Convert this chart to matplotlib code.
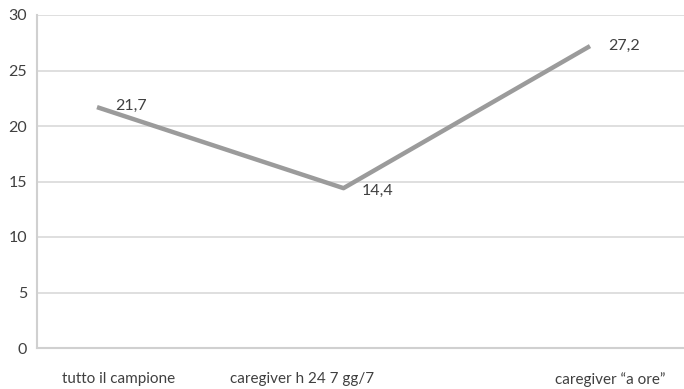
import matplotlib
matplotlib.use("Agg")
import matplotlib.pyplot as plt

categories = ["tutto il campione", "caregiver h 24 7 gg/7", "caregiver \u201ca ore\u201d"]
values = [21.7, 14.4, 27.2]
value_labels = ["21,7", "14,4", "27,2"]
yticks = [0, 5, 10, 15, 20, 25, 30]

plt.rcParams["font.family"] = ["Lato", "DejaVu Sans"]

W, H = 684, 389
fig = plt.figure(figsize=(W / 100, H / 100), dpi=100)
left, right, top, bottom = 37, 684, 15, 348
ax = fig.add_axes([left / W, (H - bottom) / H, (right - left) / W, (bottom - top) / H])

# points sit at x = 97, 344, 589 px; 246 px per category step
step = 246.5
x0 = 97
ax.set_xlim((left - x0) / step, (right - x0) / step)
ax.set_ylim(0, 30)

xs = list(range(len(values)))
ax.plot(xs, values, color="#9b9b9b", lw=3.2, solid_capstyle="butt", zorder=3)

offsets = [(13, 1), (13, -2), (13, 0)]
for x, v, lab, (dx, dy) in zip(xs, values, value_labels, offsets):
    ax.annotate(lab, (x, v), xytext=(dx, dy), textcoords="offset points",
                ha="left", va="center", fontsize=11.5, color="#404040", zorder=4)

ax.set_yticks(yticks)
ax.set_yticklabels([str(t) for t in yticks])
ax.yaxis.grid(True, color="#d9d9d9", lw=1.2)
ax.set_axisbelow(True)

# category labels are centred at these pixel columns
label_px = [119, 302, 610]
ax.set_xticks([(p - x0) / step for p in label_px])
ax.set_xticklabels(categories)

ax.tick_params(axis="both", length=0, labelsize=11.5, labelcolor="#404040")
ax.tick_params(axis="x", labelsize=11, pad=17)
ax.tick_params(axis="y", pad=7)

for s in ["top", "right"]:
    ax.spines[s].set_visible(False)
ax.spines["left"].set_color("#d0d0d0")
ax.spines["left"].set_linewidth(1.5)
ax.spines["bottom"].set_color("#d0d0d0")
ax.spines["bottom"].set_linewidth(1.5)

fig.savefig("out.png", dpi=100)
